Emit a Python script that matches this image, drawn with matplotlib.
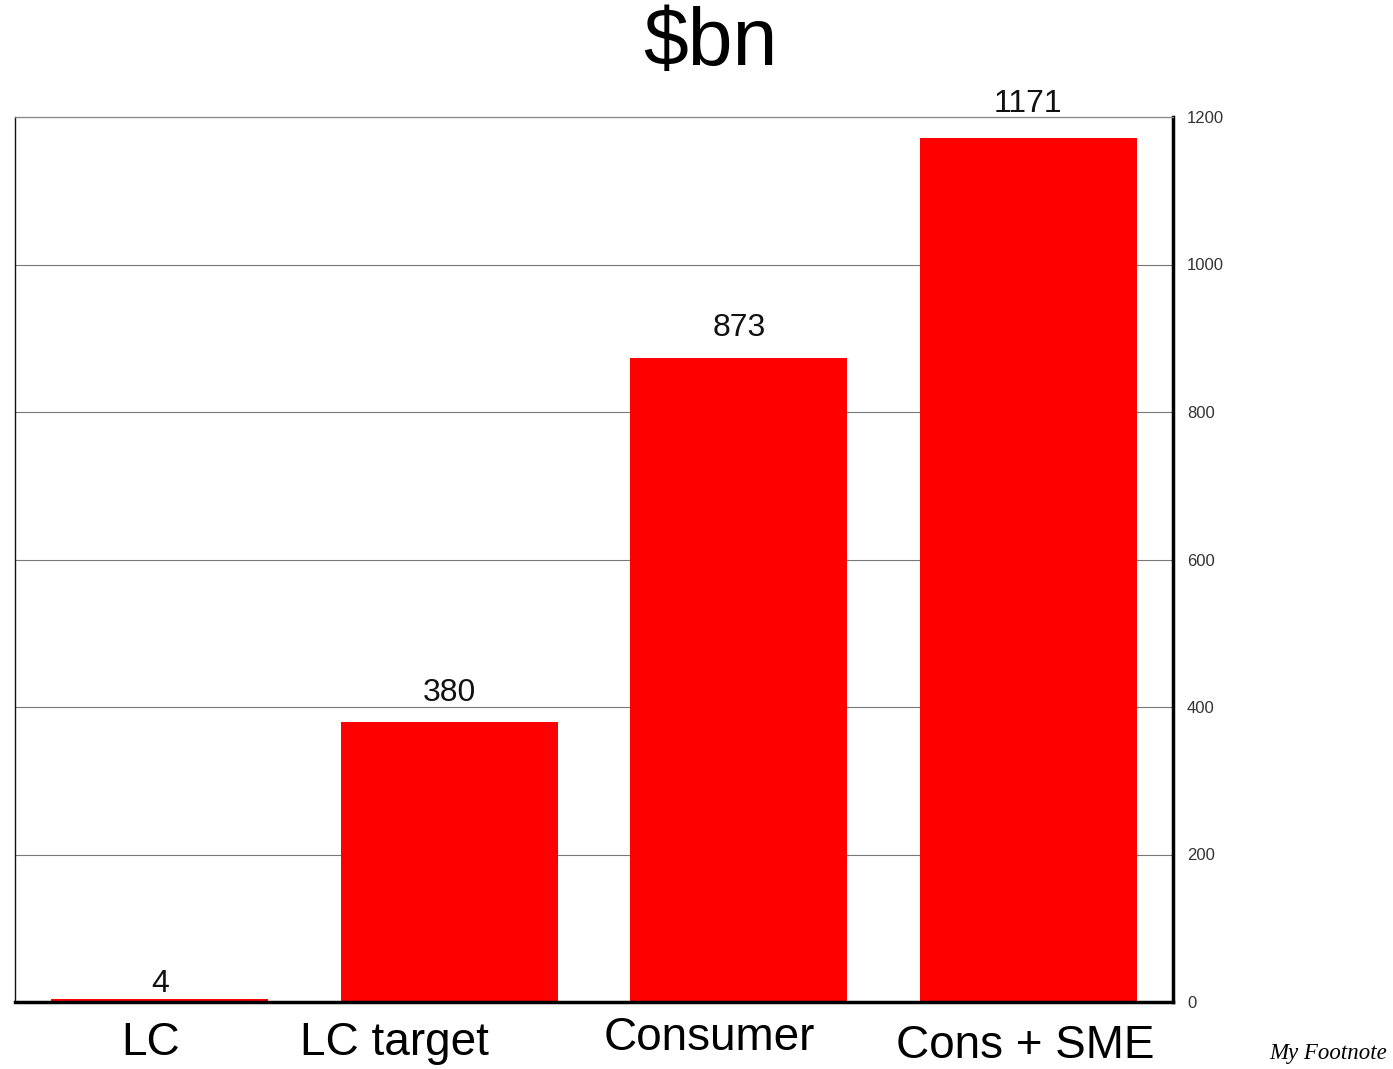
import matplotlib
matplotlib.use("Agg")
import matplotlib.pyplot as plt
import matplotlib.transforms as mtransforms

plt.rcParams['font.family'] = ['Liberation Sans', 'DejaVu Sans']

categories = ['LC', 'LC target', 'Consumer', 'Cons + SME']
values = [4, 380, 873, 1171]
y_ticks = [0, 200, 400, 600, 800, 1000, 1200]

# label placement (x in category units, baseline offset in points below axis)
label_x = [-0.03, 0.81, 1.90, 2.99]
label_dy = [-38, -38, -34.5, -40.5]
value_dy = [0, 10, 11, 14]

fig = plt.figure(figsize=(13.93, 10.69), dpi=100)
ax = fig.add_axes([15/1393, 1 - 1002/1069, (1173-15)/1393, (1002-117)/1069])

xs = list(range(len(categories)))
ax.bar(xs, values, width=0.75, color='#ff0000', zorder=2)
ax.set_xlim(-0.5, 3.5)
ax.set_ylim(0, 1200)

ax.yaxis.tick_right()
ax.set_yticks(y_ticks)
ax.set_yticklabels([str(t) for t in y_ticks], fontsize=12, color='#333333')
ax.tick_params(axis='y', length=0, pad=10)
ax.set_xticks([])
ax.grid(axis='y', color='#777777', linewidth=0.8, zorder=1)

ax.spines['bottom'].set_linewidth(2.5)
ax.spines['bottom'].set_color('black')
ax.spines['right'].set_linewidth(2.5)
ax.spines['right'].set_color('black')
ax.spines['left'].set_linewidth(1.0)
ax.spines['left'].set_color('#111111')
ax.spines['top'].set_linewidth(0.9)
ax.spines['top'].set_color('#888888')

for x, v, dy in zip(xs, values, value_dy):
    ax.annotate(str(v), (x, v), xytext=(0, dy), textcoords='offset points',
                ha='center', va='bottom', fontsize=23, color='#111111')

trans = mtransforms.blended_transform_factory(ax.transData, ax.transAxes)
for lx, dy, name in zip(label_x, label_dy, categories):
    ax.annotate(name, (lx, 0), xycoords=trans, xytext=(0, dy),
                textcoords='offset points', ha='center', va='baseline',
                fontsize=33, color='black', annotation_clip=False)

fig.text(710/1393, 1 - 65/1069, '$bn', ha='center', va='baseline', fontsize=58)
fig.text(1387/1393, 1 - 1053/1069, 'My Footnote', ha='right', va='center',
         fontsize=16.5, style='italic', family=['Liberation Serif', 'DejaVu Serif'])

fig.savefig('out.png', dpi=100)
